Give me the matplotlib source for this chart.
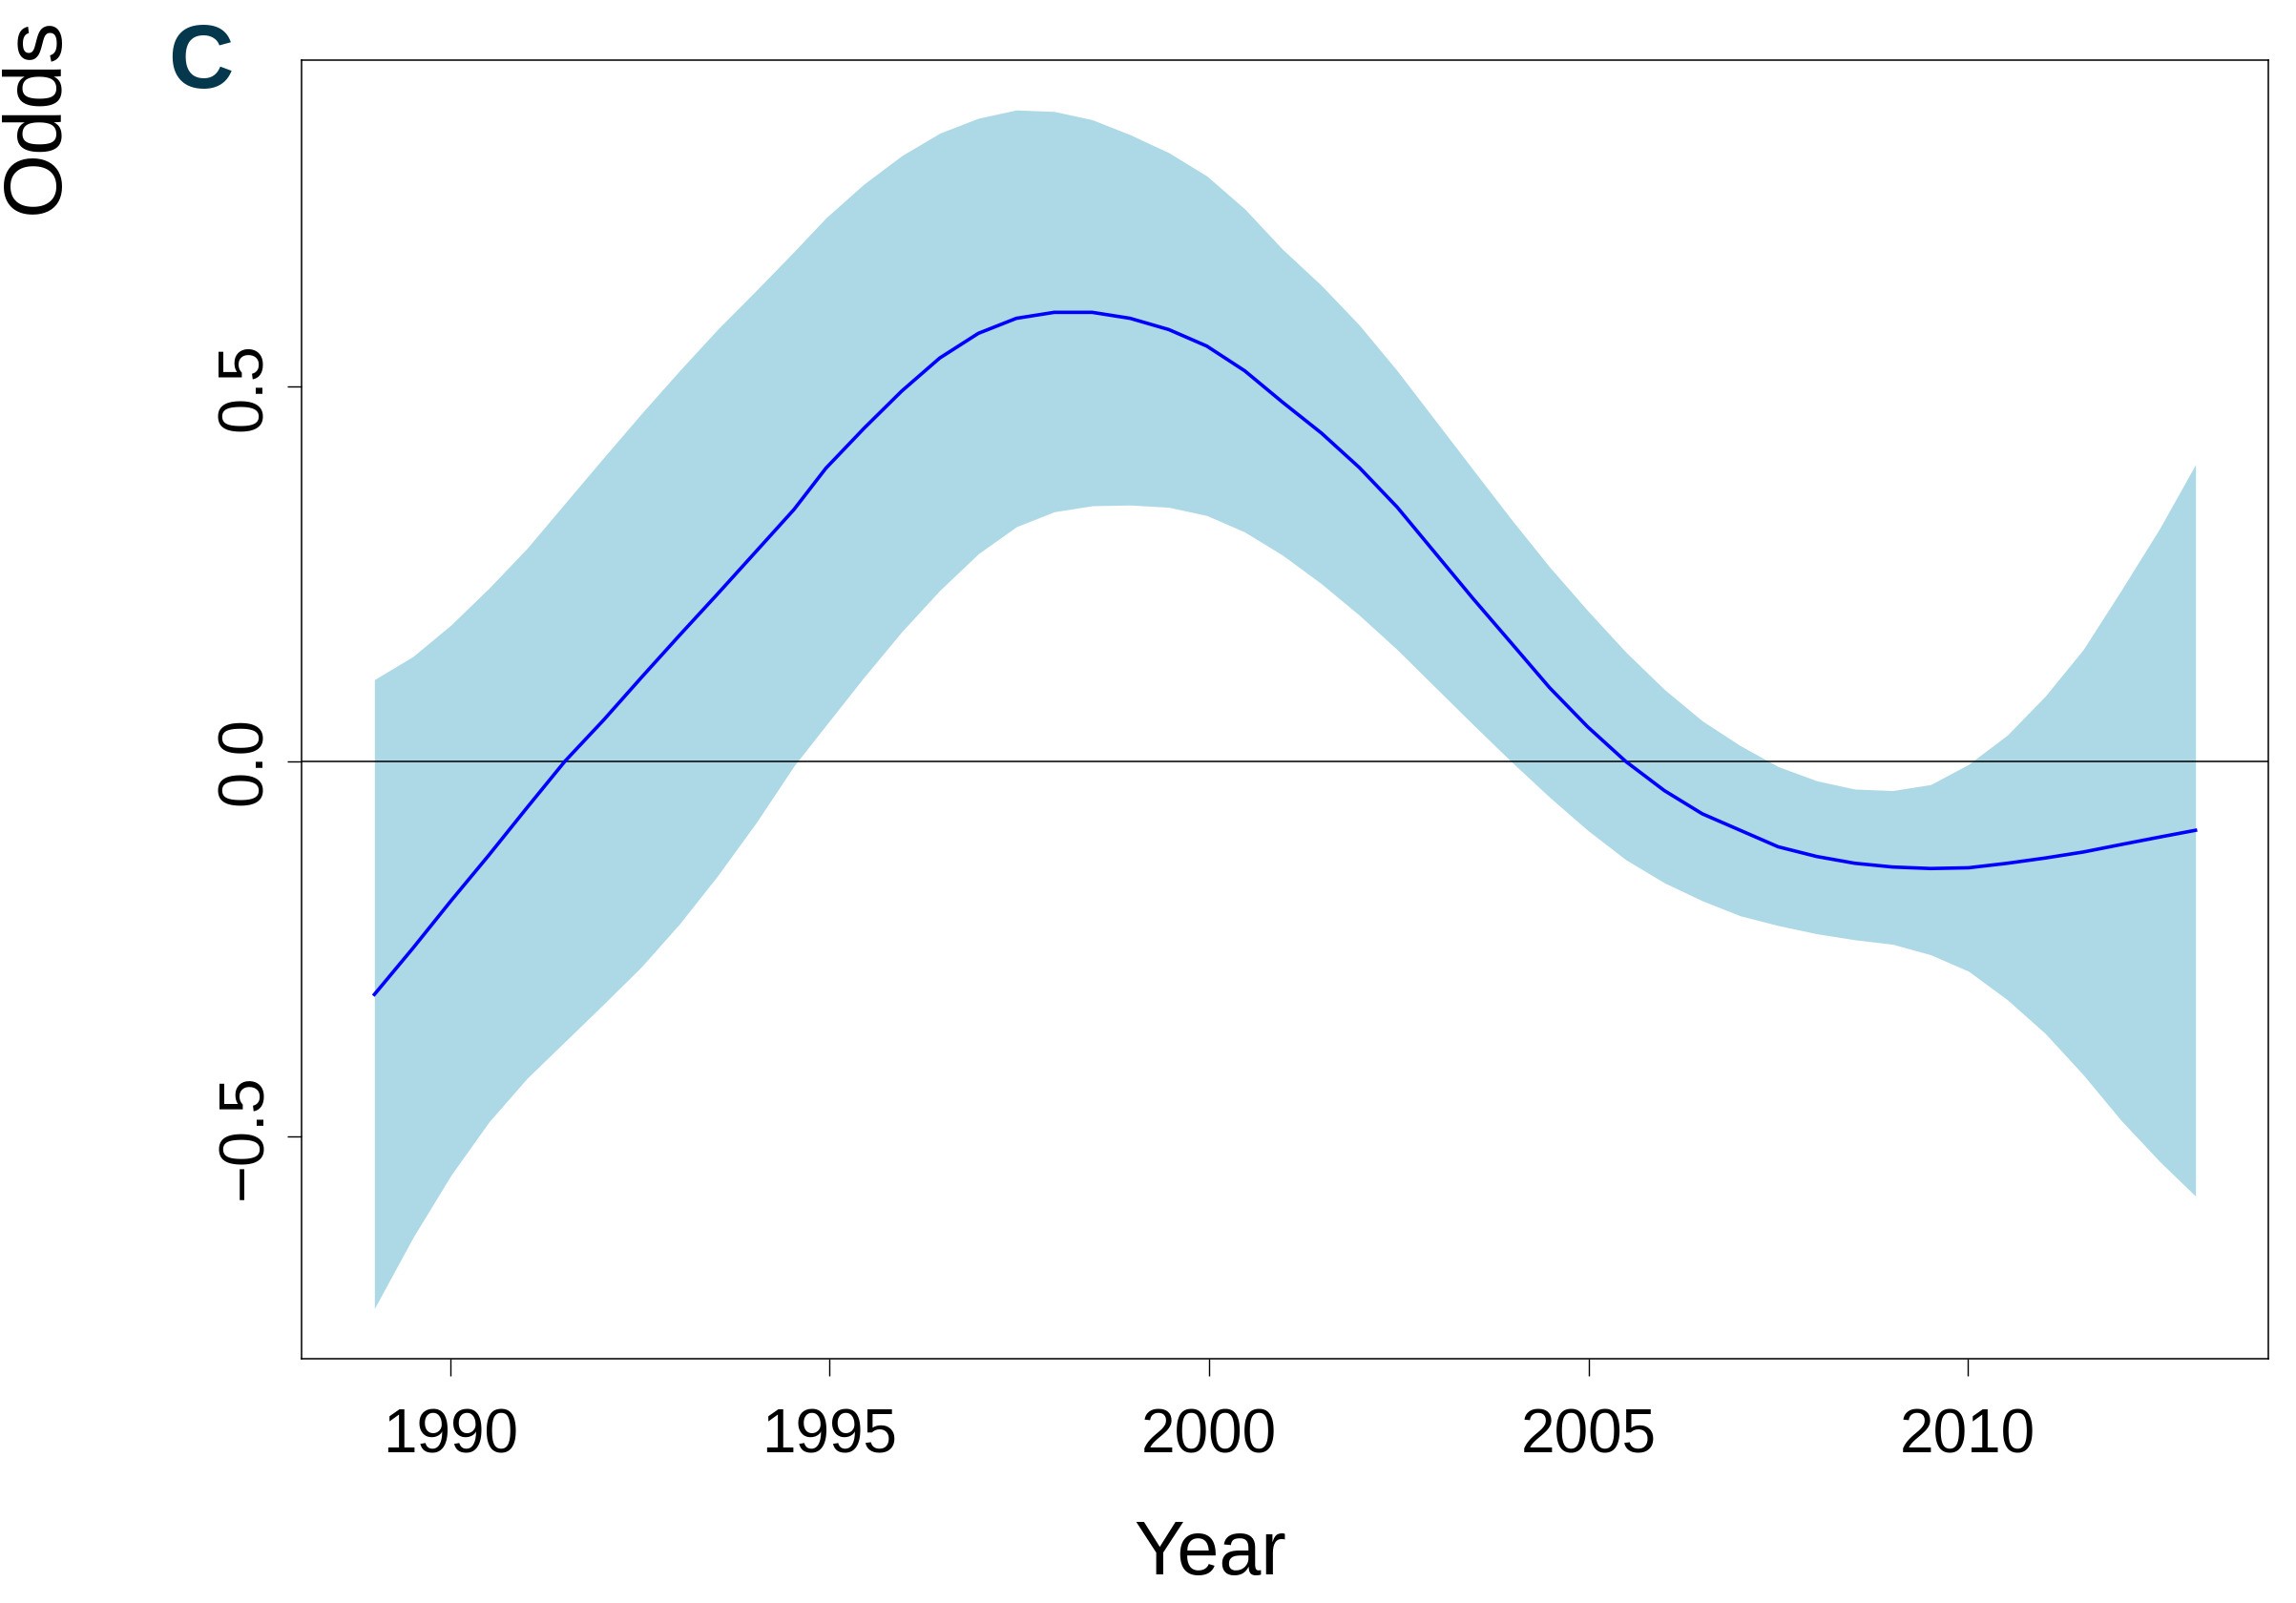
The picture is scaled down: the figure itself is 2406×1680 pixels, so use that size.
import matplotlib.pyplot as plt

# smooth year effect (log odds) with its pointwise confidence band
years = [1989.00, 1989.51, 1990.01, 1990.51, 1991.01, 1991.51, 1992.02, 1992.52,
         1993.02, 1993.52, 1994.03, 1994.53, 1994.95, 1995.45, 1995.95, 1996.45,
         1996.96, 1997.46, 1997.96, 1998.46, 1998.96, 1999.47, 1999.97, 2000.47,
         2000.97, 2001.48, 2001.98, 2002.48, 2002.98, 2003.48, 2003.99, 2004.49,
         2004.99, 2005.49, 2006.00, 2006.50, 2007.00, 2007.50, 2008.01, 2008.51,
         2009.01, 2009.51, 2010.01, 2010.52, 2011.02, 2011.52, 2012.02, 2012.53,
         2013.00]

fit = [-0.311, -0.249, -0.186, -0.125, -0.062, 0.000, 0.055, 0.112,
       0.168, 0.223, 0.280, 0.336, 0.391, 0.444, 0.494, 0.538,
       0.571, 0.591, 0.599, 0.599, 0.591, 0.576, 0.554, 0.521,
       0.479, 0.438, 0.392, 0.339, 0.278, 0.217, 0.157, 0.098,
       0.046, 0.000, -0.039, -0.070, -0.092, -0.114, -0.127, -0.136,
       -0.141, -0.143, -0.142, -0.136, -0.129, -0.121, -0.111, -0.101,
       -0.092]

upper = [0.109, 0.140, 0.182, 0.231, 0.284, 0.344, 0.405, 0.464,
         0.521, 0.576, 0.628, 0.680, 0.725, 0.770, 0.808, 0.838,
         0.858, 0.869, 0.867, 0.856, 0.836, 0.812, 0.781, 0.737,
         0.683, 0.635, 0.582, 0.521, 0.455, 0.389, 0.322, 0.259,
         0.201, 0.146, 0.096, 0.054, 0.021, -0.007, -0.026, -0.037,
         -0.039, -0.031, -0.004, 0.035, 0.087, 0.149, 0.228, 0.311,
         0.396]

lower = [-0.730, -0.635, -0.552, -0.481, -0.423, -0.374, -0.324, -0.274,
         -0.217, -0.153, -0.082, -0.006, 0.048, 0.112, 0.173, 0.228,
         0.277, 0.313, 0.333, 0.341, 0.342, 0.339, 0.328, 0.306,
         0.275, 0.237, 0.195, 0.149, 0.099, 0.049, -0.001, -0.048,
         -0.092, -0.131, -0.162, -0.186, -0.206, -0.219, -0.230, -0.238,
         -0.244, -0.258, -0.280, -0.318, -0.363, -0.418, -0.479, -0.534,
         -0.580]

x_ticks = [1990, 1995, 2000, 2005, 2010]
y_ticks = [-0.5, 0.0, 0.5]

plt.rcParams['font.family'] = ['Liberation Sans', 'DejaVu Sans']

W, H = 2406, 1680
fig = plt.figure(figsize=(W / 100, H / 100), dpi=100)
ax = fig.add_axes([316 / W, 1 - 1424 / H, (2377 - 316) / W, (1424 - 63) / H])

ax.fill_between(years, lower, upper, color='lightblue', linewidth=0)
ax.axhline(0, color='black', linewidth=1.1)
ax.plot(years, fit, color='blue', linewidth=2.6, solid_joinstyle='round')

ax.set_xlim(1988.04, 2013.96)
ax.set_ylim(-0.797, 0.9355)
ax.set_xticks(x_ticks)
ax.set_yticks(y_ticks)
for s in ax.spines.values():
    s.set_linewidth(1.1)
ax.tick_params(axis='x', length=13, width=1.0, pad=24, labelsize=46)
ax.tick_params(axis='y', length=11, width=1.0, pad=9, labelsize=48, labelrotation=90)
for lab in ax.get_yticklabels():
    lab.set_verticalalignment('center')

fig.text(1268 / W, 1 - 1650 / H, 'Year', ha='center', va='baseline', fontsize=57)
fig.text(61 / W, 1 - 224 / H, 'Odds', rotation=90, rotation_mode='anchor',
         ha='left', va='baseline', fontsize=62)
fig.text(176 / W, 1 - 92 / H, 'C', ha='left', va='baseline', fontsize=68,
         fontweight='bold', color='#05384c')

fig.savefig('out.png', dpi=100)
